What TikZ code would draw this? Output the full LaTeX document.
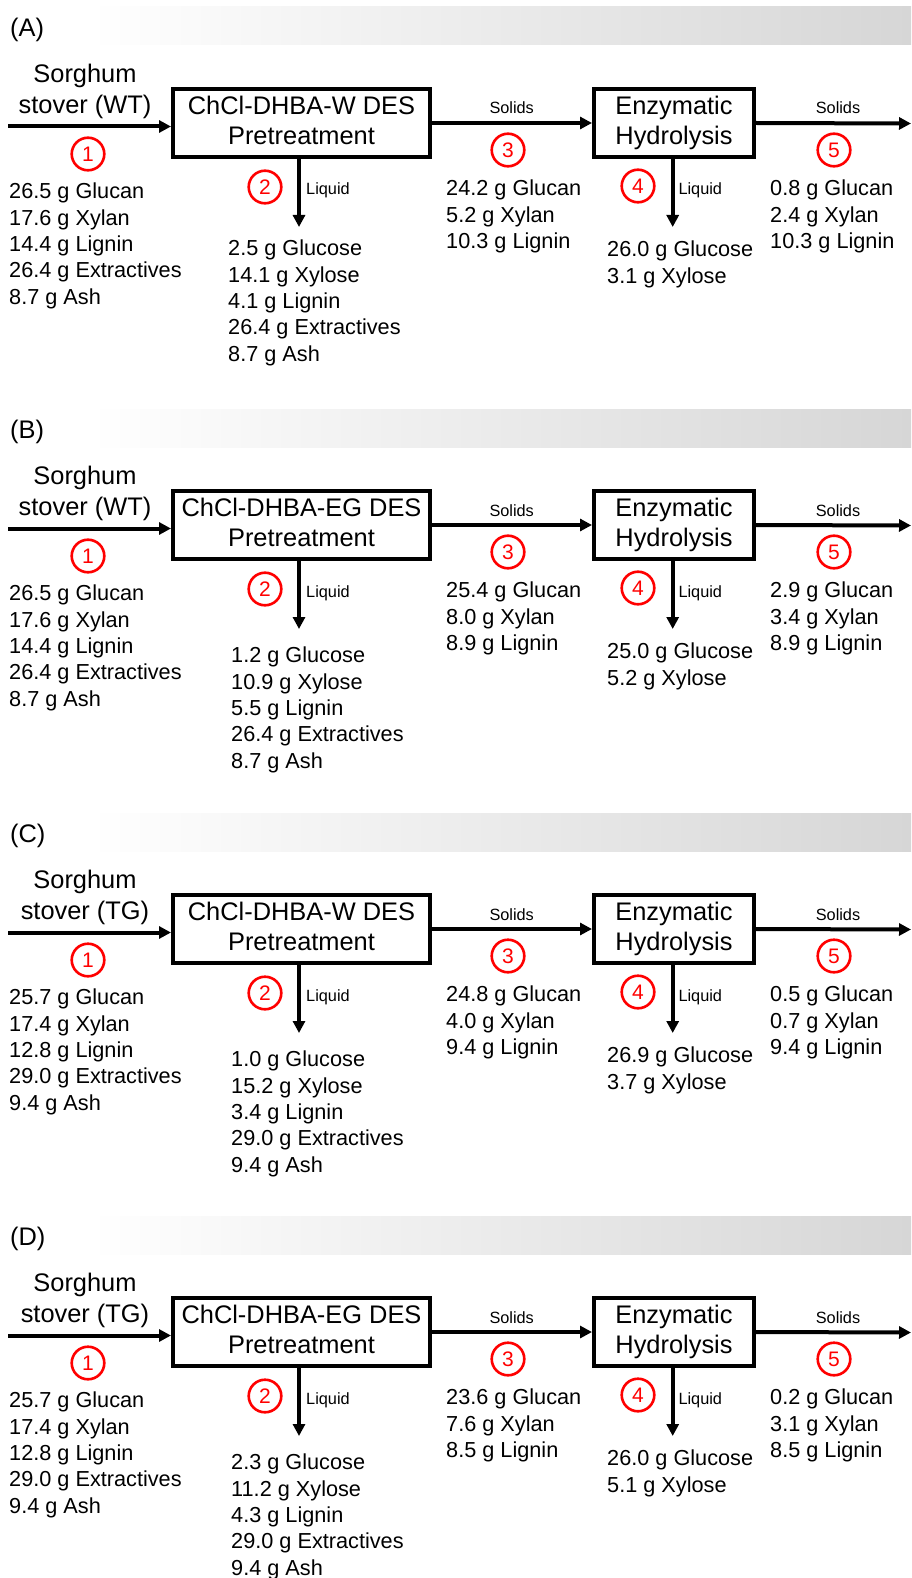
\documentclass[tikz,border=0pt]{standalone}
\usepackage{fontspec}
\setmainfont{Liberation Sans}
\usetikzlibrary{arrows.meta,calc}
\definecolor{barg}{RGB}{214,214,214}
\definecolor{numred}{RGB}{255,0,0}
\newcommand\lf{\fontsize{21.7}{26.3}\selectfont}
\newcommand\tf{\fontsize{25.4}{30}\selectfont}
\newcommand\srcf{\fontsize{25.4}{31}\selectfont}
\newcommand\smallf{\fontsize{16.3}{19}\selectfont}
\newcommand\numf{\fontsize{21}{24}\selectfont}
\def\liqx{232}\def\liqy{245}
\newcommand\Panel[9]{%
\begin{scope}[shift={(0,#2)}]
\shade[left color=white,right color=barg] (90,7) rectangle (911,45);
\node[anchor=base west, inner sep=0, font=\tf] (lab#1) at (10,36.5) {(#1)};
\node[anchor=north, inner sep=0, align=center, font=\srcf] (src#1) at (85,64) {Sorghum\\stover (#3)};
\coordinate (in#1) at (8,126.5);
\node[unit, minimum width=257pt] (pre#1) at (301.5,123) {ChCl-DHBA-#4 DES\\Pretreatment\vphantom{y}};
\node[unit, minimum width=160pt] (enz#1) at (674,123) {Enzymatic\\Hydrolysis};
\coordinate (out#1) at (911,123.5);
\coordinate (l1#1) at (299,227);
\coordinate (l2#1) at (672.7,227);
\draw[flow] (in#1) -- (in#1 -| pre#1.west);
\draw[flow] (pre#1.east) -- (enz#1.west);
\draw[flow] (enz#1.east) -- (out#1);
\draw[flow] (l1#1 |- pre#1.south) -- (l1#1);
\draw[flow] (l2#1 |- enz#1.south) -- (l2#1);
\node[anchor=base, inner sep=0, font=\smallf] (so1#1) at (511.7,114) {Solids};
\node[anchor=base, inner sep=0, font=\smallf] (so2#1) at (838,114) {Solids};
\node[anchor=base west, inner sep=0, font=\smallf] (lq1#1) at (306,195) {Liquid};
\node[anchor=base west, inner sep=0, font=\smallf] (lq2#1) at (678.3,195) {Liquid};
\node[num] (n1#1) at (88,154) {1};
\node[num] (n2#1) at (265,187) {2};
\node[num] (n3#1) at (508,150) {3};
\node[num] (n4#1) at (638,186) {4};
\node[num] (n5#1) at (834,150) {5};
\node[lst] (m1#1) at (9,183) {#5};
\node[lst] (m2#1) at (\liqx,\liqy) {#6};
\node[lst] (m3#1) at (446,180) {#7};
\node[lst] (m4#1) at (607,241) {#8};
\node[lst] (m5#1) at (770,180) {#9};
\end{scope}}
\begin{document}
\begin{tikzpicture}[x=1pt,y=-1pt,
  flow/.style={line width=4pt, -{Triangle[length=12pt,width=12pt]}},
  unit/.style={draw, line width=4pt, minimum height=68pt, inner sep=0, align=center, font=\tf},
  num/.style={circle, draw=numred, line width=2.6pt, minimum size=32.6pt, inner sep=0, text=numred, font=\numf},
  lst/.style={anchor=north west, inner sep=0, align=left, font=\lf}]
\useasboundingbox (0,0) rectangle (911,1578);
\def\liqx{228}\def\liqy{240}
\Panel{A}{0}{WT}{W}
 {26.5 g Glucan\\17.6 g Xylan\\14.4 g Lignin\\26.4 g Extractives\\8.7 g Ash}
 {2.5 g Glucose\\14.1 g Xylose\\4.1 g Lignin\\26.4 g Extractives\\8.7 g Ash}
 {24.2 g Glucan\\5.2 g Xylan\\10.3 g Lignin}
 {26.0 g Glucose\\3.1 g Xylose}
 {0.8 g Glucan\\2.4 g Xylan\\10.3 g Lignin}
\def\liqx{231}\def\liqy{245}
\Panel{B}{402}{WT}{EG}
 {26.5 g Glucan\\17.6 g Xylan\\14.4 g Lignin\\26.4 g Extractives\\8.7 g Ash}
 {1.2 g Glucose\\10.9 g Xylose\\5.5 g Lignin\\26.4 g Extractives\\8.7 g Ash}
 {25.4 g Glucan\\8.0 g Xylan\\8.9 g Lignin}
 {25.0 g Glucose\\5.2 g Xylose}
 {2.9 g Glucan\\3.4 g Xylan\\8.9 g Lignin}
\Panel{C}{806}{TG}{W}
 {25.7 g Glucan\\17.4 g Xylan\\12.8 g Lignin\\29.0 g Extractives\\9.4 g Ash}
 {1.0 g Glucose\\15.2 g Xylose\\3.4 g Lignin\\29.0 g Extractives\\9.4 g Ash}
 {24.8 g Glucan\\4.0 g Xylan\\9.4 g Lignin}
 {26.9 g Glucose\\3.7 g Xylose}
 {0.5 g Glucan\\0.7 g Xylan\\9.4 g Lignin}
\Panel{D}{1209}{TG}{EG}
 {25.7 g Glucan\\17.4 g Xylan\\12.8 g Lignin\\29.0 g Extractives\\9.4 g Ash}
 {2.3 g Glucose\\11.2 g Xylose\\4.3 g Lignin\\29.0 g Extractives\\9.4 g Ash}
 {23.6 g Glucan\\7.6 g Xylan\\8.5 g Lignin}
 {26.0 g Glucose\\5.1 g Xylose}
 {0.2 g Glucan\\3.1 g Xylan\\8.5 g Lignin}
\end{tikzpicture}
\end{document}
